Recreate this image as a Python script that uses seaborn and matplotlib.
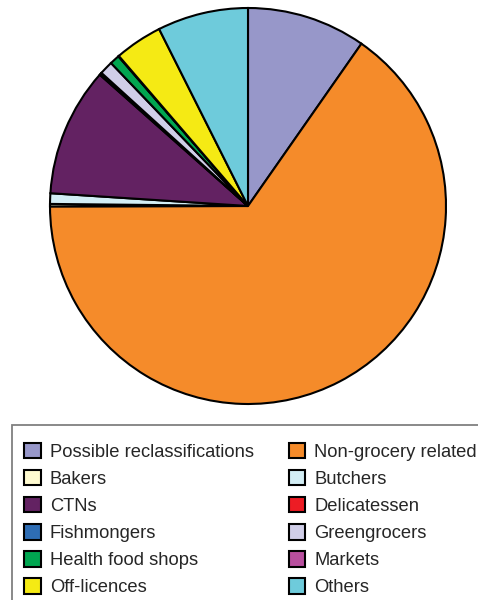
import matplotlib
matplotlib.use("Agg")
import matplotlib.pyplot as plt
from matplotlib.patches import Rectangle
import seaborn as sns

categories = ["Possible reclassifications", "Non-grocery related", "Bakers", "Butchers",
              "CTNs", "Delicatessen", "Fishmongers", "Greengrocers",
              "Health food shops", "Markets", "Off-licences", "Others"]
shares = [9.7, 65.2, 0.2, 0.86, 10.5, 0.15, 0.05, 1.1, 0.8, 0.05, 3.9, 7.4]
colors = ["#9797C9", "#F58B2A", "#FFFBD0", "#D3EEF5", "#632262", "#ED1C24",
          "#2E6DB4", "#D0CEE8", "#00A650", "#B84F9E", "#F5EA14", "#6ECBDB"]

sns.set_theme(style="white")
plt.rcParams['font.family'] = ['Liberation Sans', 'DejaVu Sans']

fig = plt.figure(figsize=(4.78, 6), dpi=100)
ax = fig.add_axes([50 / 478, (600 - 206 - 198) / 600, 396 / 478, 396 / 600])

wedges, _ = ax.pie(shares, colors=colors, startangle=90, counterclock=False,
                   wedgeprops=dict(edgecolor='black', linewidth=1.5))
for w in wedges:
    w.set_clip_on(False)
ax.set_xlim(-1, 1)
ax.set_ylim(-1, 1)
ax.set_aspect('equal')
ax.axis('off')

# legend box runs off the right and bottom edges of the figure
fig.patches.append(Rectangle((12 / 478, -0.05), 1.0, 0.05 + 175 / 600,
                             transform=fig.transFigure, fill=False,
                             edgecolor='#808080', linewidth=1.3))

# row-major order for the two-column legend
order = list(range(0, 12, 2)) + list(range(1, 12, 2))
leg = fig.legend([wedges[i] for i in order], [categories[i] for i in order],
                 ncol=2, loc='upper left', bbox_to_anchor=(24 / 478, 1 - 443 / 600),
                 borderaxespad=0, borderpad=0, fontsize=13.2, frameon=False,
                 handlelength=0.9, handleheight=0.9, handletextpad=0.5,
                 columnspacing=1.9, labelspacing=0.5)

fig.savefig('out.png', dpi=100)
